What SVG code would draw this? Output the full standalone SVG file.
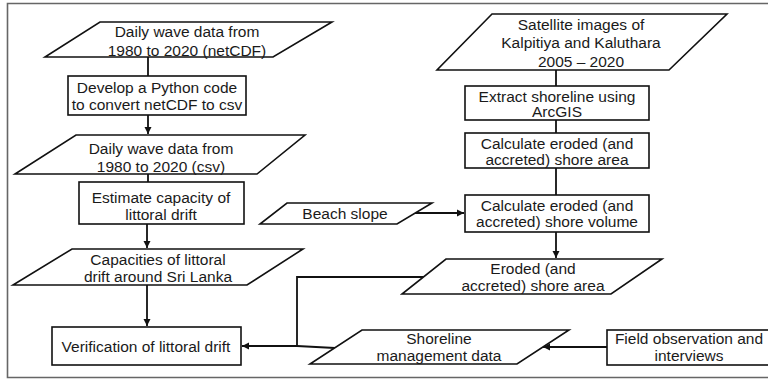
<svg xmlns="http://www.w3.org/2000/svg" width="768" height="379" viewBox="0 0 768 379">
  <style>
    .shape { fill: #ffffff; stroke: #111111; stroke-width: 1.6; }
    .frame { fill: none; stroke: #666666; stroke-width: 1.6; }
    .label { font-family: "Liberation Sans", Arial, sans-serif; font-size: 15.5px; fill: #1a1a1a; text-anchor: middle; }
    .link { fill: none; stroke: #111111; stroke-width: 1.8; }
    .arrow { marker-end: url(#head); }
  </style>
  <defs>
    <marker id="head" viewBox="0 0 10 10" refX="10" refY="5" markerWidth="4" markerHeight="4" orient="auto" markerUnits="strokeWidth">
      <path d="M0,0 L10,5 L0,10 z" fill="#111111"/>
    </marker>
  </defs>

  <rect width="768" height="379" fill="#ffffff"/>
  <!-- outer frame, open on the right -->
  <path class="frame" d="M772,3.5 H7.5 V377.5 H772"/>

  <!-- connectors -->
  <g id="connectors">
    <line class="link" x1="148" y1="57" x2="148" y2="76"/>
    <line class="link arrow" x1="148" y1="115" x2="148" y2="134"/>
    <line class="link" x1="148" y1="174" x2="148" y2="182"/>
    <line class="link arrow" x1="147" y1="224" x2="147" y2="248"/>
    <line class="link arrow" x1="147" y1="285" x2="147" y2="326"/>
    <line class="link" x1="556" y1="70" x2="556" y2="86"/>
    <line class="link" x1="556" y1="120" x2="556" y2="133"/>
    <line class="link" x1="556" y1="168" x2="556" y2="195"/>
    <line class="link arrow" x1="556" y1="232" x2="556" y2="258"/>
    <line class="link arrow" x1="413" y1="213" x2="464" y2="213"/>
    <polyline class="link" points="424,277 297,277 297,346"/>
    <line class="link" x1="335" y1="348" x2="297" y2="346"/>
    <line class="link arrow" x1="297" y1="346" x2="242" y2="346"/>
    <line class="link arrow" x1="607" y1="347" x2="543" y2="347"/>
  </g>

  <!-- left column -->
  <g id="wave-netcdf">
    <polygon class="shape" points="100,22 332,22 273,57 45,57"/>
    <text class="label" x="187" y="37">Daily wave data from</text>
    <text class="label" x="187" y="55.5">1980 to 2020 (netCDF)</text>
  </g>
  <g id="python-code">
    <rect class="shape" x="68" y="76" width="178" height="39"/>
    <text class="label" x="157" y="92.5">Develop a Python code</text>
    <text class="label" x="157" y="110">to convert netCDF to csv</text>
  </g>
  <g id="wave-csv">
    <polygon class="shape" points="76,135 305,135 257,174 15,174"/>
    <text class="label" x="161" y="153.5">Daily wave data from</text>
    <text class="label" x="161" y="171.5">1980 to 2020 (csv)</text>
  </g>
  <g id="estimate-capacity">
    <rect class="shape" x="79" y="182" width="165" height="42"/>
    <text class="label" x="161" y="203">Estimate capacity of</text>
    <text class="label" x="161" y="220">littoral drift</text>
  </g>
  <g id="capacities">
    <polygon class="shape" points="72,249 303,249 247,285 13,285"/>
    <text class="label" x="158" y="264.5">Capacities of littoral</text>
    <text class="label" x="158" y="281.5">drift around Sri Lanka</text>
  </g>
  <g id="verification">
    <rect class="shape" x="52" y="327" width="189" height="38"/>
    <text class="label" x="146" y="351.5">Verification of littoral drift</text>
  </g>

  <!-- right column -->
  <g id="satellite">
    <polygon class="shape" points="492,14 727,14 669,70 437,70"/>
    <text class="label" x="581" y="29.5">Satellite images of</text>
    <text class="label" x="581" y="48">Kalpitiya and Kaluthara</text>
    <text class="label" x="581" y="66.5">2005 – 2020</text>
  </g>
  <g id="extract-shoreline">
    <rect class="shape" x="465" y="86" width="184" height="34"/>
    <text class="label" x="557" y="101.5">Extract shoreline using</text>
    <text class="label" x="557" y="117">ArcGIS</text>
  </g>
  <g id="eroded-area-calc">
    <rect class="shape" x="465" y="133" width="184" height="35"/>
    <text class="label" x="557" y="148.5">Calculate eroded (and</text>
    <text class="label" x="557" y="165">accreted) shore area</text>
  </g>
  <g id="eroded-volume-calc">
    <rect class="shape" x="465" y="195" width="184" height="37"/>
    <text class="label" x="557" y="210.5">Calculate eroded (and</text>
    <text class="label" x="557" y="227">accreted) shore volume</text>
  </g>
  <g id="beach-slope">
    <polygon class="shape" points="287,203 432,203 397,224 260,224"/>
    <text class="label" x="345" y="218.5">Beach slope</text>
  </g>
  <g id="eroded-area">
    <polygon class="shape" points="446,259 662,259 611,294 402,294"/>
    <text class="label" x="533" y="273.5">Eroded (and</text>
    <text class="label" x="533" y="291">accreted) shore area</text>
  </g>
  <g id="shoreline-management">
    <polygon class="shape" points="362,330 569,330 517,364 310,364"/>
    <text class="label" x="439" y="344">Shoreline</text>
    <text class="label" x="439" y="361">management data</text>
  </g>
  <g id="field-observation">
    <rect class="shape" x="607" y="330" width="170" height="35"/>
    <text class="label" x="689" y="343.5">Field observation and</text>
    <text class="label" x="689" y="360.5">interviews</text>
  </g>
</svg>
